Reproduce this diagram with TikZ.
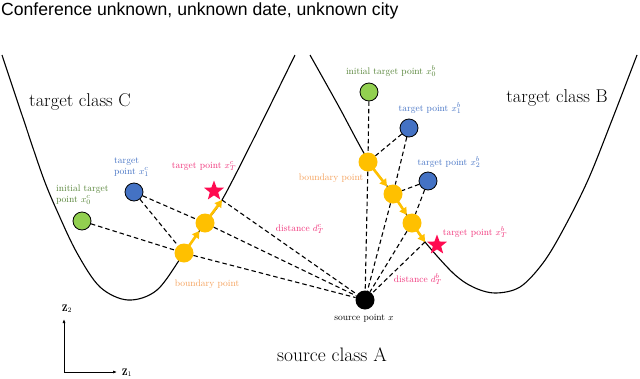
\documentclass[tikz,border=0pt]{standalone}
\usepackage{fontspec}
\newfontfamily\titlefont{Liberation Sans}
\usetikzlibrary{shapes.geometric,arrows.meta}

\definecolor{dotgreen}{HTML}{92D050}
\definecolor{dotblue}{HTML}{4472C4}
\definecolor{dotyellow}{HTML}{FFC000}
\definecolor{starpink}{HTML}{FF0A50}
\definecolor{txtgreen}{HTML}{548235}
\definecolor{txtblue}{HTML}{4472C4}
\definecolor{txtorange}{HTML}{F4A05A}
\definecolor{txtpink}{HTML}{F0337A}

\tikzset{
  dot/.style={circle, draw=black, line width=0.8pt, minimum size=18pt, inner sep=0pt},
  initdot/.style={dot, fill=dotgreen},
  tgtdot/.style={dot, fill=dotblue},
  bnddot/.style={circle, fill=dotyellow, minimum size=19pt, inner sep=0pt},
  srcdot/.style={circle, fill=black, minimum size=19pt, inner sep=0pt},
  endstar/.style={star, star points=5, star point ratio=2.4, fill=starpink, minimum size=21pt, inner sep=0pt},
  link/.style={dashed, dash pattern=on 4.5pt off 3pt, line width=1.1pt},
  push/.style={-{Triangle[length=7pt,width=8pt]}, dotyellow, line width=2.6pt, shorten <=-1pt},
  lbl/.style={font=\fontsize{9.5}{10.5}\selectfont, inner sep=0pt},
  cls/.style={font=\fontsize{18.5}{20}\selectfont, inner sep=0pt}
}

\begin{document}
\begin{tikzpicture}[x=1pt, y=-1pt]
    \useasboundingbox (0,0) rectangle (640,378);

    % Header
    \node[anchor=base west, inner sep=0pt, font=\titlefont\fontsize{17.6}{20}\selectfont] (title) at (1,15) {Conference unknown, unknown date, unknown city};

    % Class boundaries
    \draw[line width=1.1pt] plot[smooth, tension=0.55] coordinates {(2,55) (22,115) (43,177) (58,213) (77,253) (100,287) (128,300) (157,290) (184,253) (205,223) (222,200) (253,140) (295,55)};
    \draw[line width=1.1pt] plot[smooth, tension=0.55] coordinates {(310,55) (338,105) (368,160) (393,194) (412,223) (425,242) (453,273) (473,287) (495,293) (520,287) (543,263) (563,230) (588,180) (612,120) (637,55)};

    \node[cls] (classC) at (80,102) {target class C};
    \node[cls] (classB) at (557,98) {target class B};
    \node[cls, font=\fontsize{19.5}{21}\selectfont] (classA) at (332,355) {source class A};

    % Source
    \node[srcdot] (src) at (365,300) {};
    \node[lbl] (srclbl) at (364,318) {source point $x$};

    % Class C points
    \node[initdot] (c0) at (82,221) {};
    \node[tgtdot] (c1) at (134,192) {};
    \node[bnddot] (cb1) at (184,253) {};
    \node[bnddot] (cb2) at (205,223) {};
    \coordinate (ce) at (222,200);
    \node[endstar] (cT) at (214,191) {};

    \draw[link] (c0) -- (cb1);
    \draw[link] (cb1) -- (src);
    \draw[link] (c1) -- (cb1);
    \draw[link] (c1) -- (cb2);
    \draw[link] (cb2) -- (src);
    \draw[link] (ce) -- (src);
    \draw[push] (cb1) -- (cb2);
    \draw[push] (cb2) -- (ce);

    \node[lbl, txtgreen, align=left, anchor=west] (c0lbl) at (56,195) {initial target\\point $x_0^c$};
    \node[lbl, txtblue, align=left, anchor=west] (c1lbl) at (114,167) {target\\point $x_1^c$};
    \node[lbl, txtpink] (cTlbl) at (204,166) {target point $x_T^c$};
    \node[lbl, txtorange] (cblbl) at (207,284) {boundary point};
    \node[lbl, txtpink] (cdlbl) at (300,229) {distance $d_T^c$};

    % Class B points
    \node[initdot] (b0) at (369,92) {};
    \node[tgtdot] (b1) at (409,128) {};
    \node[tgtdot] (b2) at (428,181) {};
    \node[bnddot] (bb1) at (368,162) {};
    \node[bnddot] (bb2) at (393,194) {};
    \node[bnddot] (bb3) at (412,223) {};
    \coordinate (be) at (425,242);
    \node[endstar] (bT) at (437,245) {};

    \draw[link] (b0) -- (bb1);
    \draw[link] (bb1) -- (src);
    \draw[link] (b1) -- (bb1);
    \draw[link] (b1) -- (bb2);
    \draw[link] (bb2) -- (src);
    \draw[link] (b2) -- (bb2);
    \draw[link] (b2) -- (bb3);
    \draw[link] (bb3) -- (src);
    \draw[link] (be) -- (src);
    \draw[push] (bb1) -- (bb2);
    \draw[push] (bb2) -- (bb3);
    \draw[push] (bb3) -- (be);

    \node[lbl, txtgreen] (b0lbl) at (391,71) {initial target point $x_0^b$};
    \node[lbl, txtblue] (b1lbl) at (430,108) {target point $x_1^b$};
    \node[lbl, txtblue] (b2lbl) at (449,162) {target point $x_2^b$};
    \node[lbl, txtorange] (bblbl) at (331,178) {boundary point};
    \node[lbl, txtpink] (bTlbl) at (475,232) {target point $x_T^b$};
    \node[lbl, txtpink] (bdlbl) at (418,279) {distance $d_T^b$};

    % Axes
    \coordinate (orig) at (64,372);
    \coordinate (zup) at (64,319);
    \coordinate (zright) at (117,372);
    \draw[-{Latex[length=4pt]}, line width=0.7pt] (orig) -- (zup);
    \draw[-{Latex[length=4pt]}, line width=0.7pt] (orig) -- (zright);
    \node[lbl] (z2) at (67,309) {$\mathbf{Z}_{2}$};
    \node[lbl] (z1) at (127,373) {$\mathbf{Z}_{1}$};

\end{tikzpicture}
\end{document}
